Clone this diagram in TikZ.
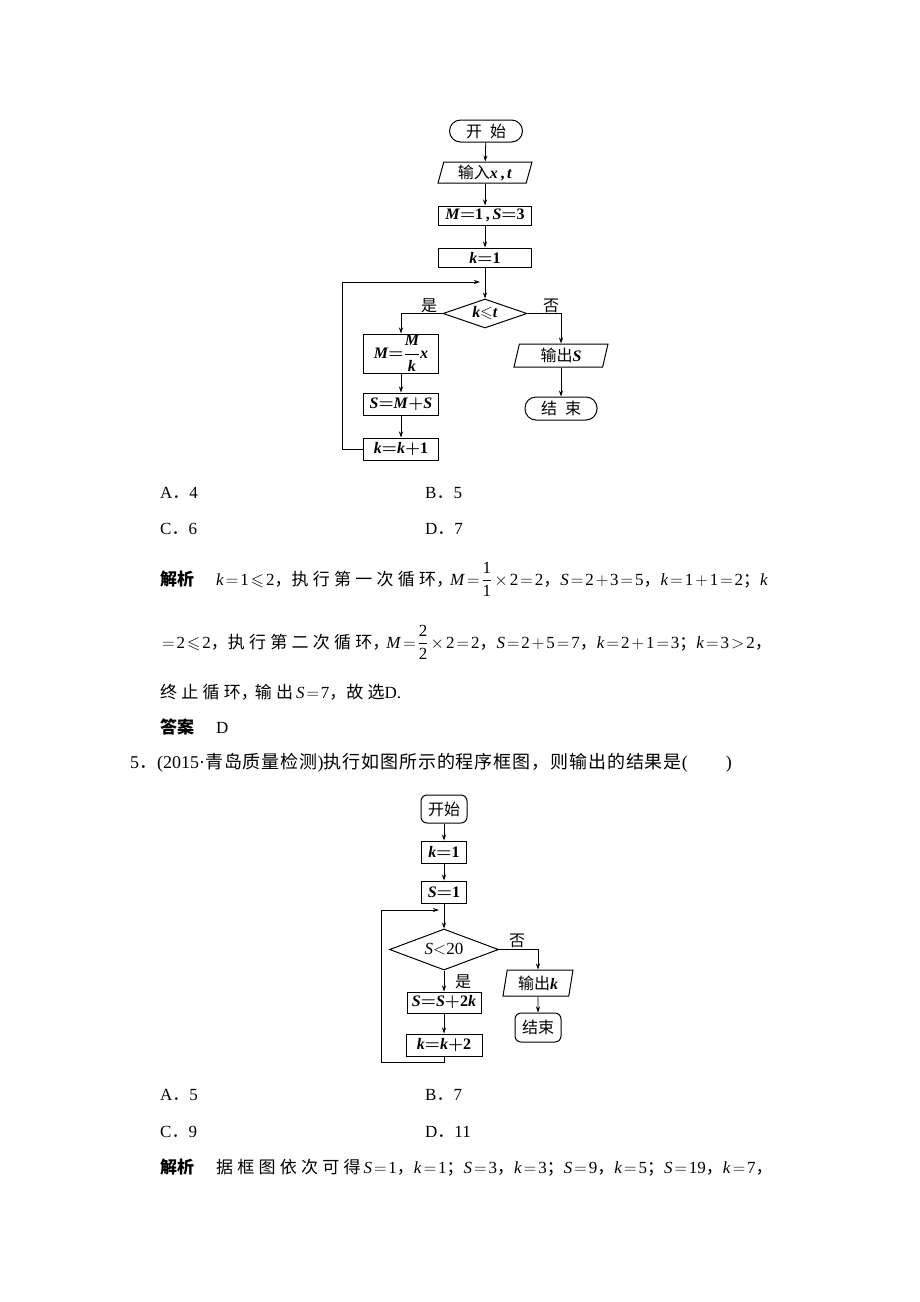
\documentclass[tikz,border=0pt]{standalone}
\usepackage{amsmath}
\usepackage{amssymb}
\usepackage{fontspec}
\setmainfont{Liberation Serif}
\newfontfamily\zhbody[LetterSpace=25]{Noto Sans CJK SC}
\newfontfamily\zhtight{Noto Sans CJK SC}
\newfontfamily\zhq[LetterSpace=5]{Noto Sans CJK SC}
\newcommand{\zh}[1]{{\zhbody #1}}
\newcommand{\zt}[1]{{\zhtight #1}}
\newcommand{\zq}[1]{{\zhq #1}}
\newcommand{\zc}[1]{{\zhtight\mdseries #1}}
\newcommand{\iv}[1]{\textit{#1}}
\newcommand{\op}[1]{\kern2pt${#1}$\kern2pt}
\newcommand{\cma}{\makebox[17pt][l]{\zt{，}}}
\newcommand{\cmz}{\makebox[14pt][l]{\zt{，}}}
\newcommand{\smc}{\makebox[17pt][l]{\zt{；}}}
\usepackage{tikz}
\usetikzlibrary{arrows.meta,shapes.geometric}
\tikzset{
    box/.style={
        draw,
        rectangle,
        line width=1pt,
        inner sep=0pt,
        align=center,
        font=\fontsize{16}{18}\selectfont\bfseries\boldmath
    },
    term/.style={
        box,
        rounded corners=11pt
    },
    termsq/.style={
        box,
        rounded corners=6pt
    },
    io/.style={
        box,
        trapezium,
        trapezium left angle=70,
        trapezium right angle=110,
        trapezium stretches body
    },
    cond/.style={
        box,
        diamond
    },
    arr/.style={
        -{Stealth[length=6pt,width=4pt]},
        line width=0.8pt
    },
    yesno/.style={
        inner sep=0pt,
        font=\fontsize{16}{18}\selectfont\zhtight
    },
    txt/.style={
        anchor=base west,
        inner sep=0pt,
        font=\fontsize{17}{20}\selectfont
    }
}
\begin{document}
\begin{tikzpicture}[x=1pt,y=-1pt]
    \fill[white] (0,0) rectangle (920,1302);
    \useasboundingbox (0,0) rectangle (920,1302);

    % first flow chart
    \node[term, minimum width=73pt, minimum height=22pt] (st1) at (486,131) {\zc{开\hspace{8pt}始}};
    \node[io, minimum width=94pt, minimum height=21pt] (in1) at (485,172.5) {\zc{输入}\iv{x}\,,\,\iv{t}};
    \node[box, minimum width=93pt, minimum height=19pt] (ms1) at (485,215.5) {\iv{M}${=}$1\,,\,\iv{S}${=}$3};
    \node[box, minimum width=93pt, minimum height=19pt] (k1) at (485,257.5) {\iv{k}${=}$1};
    \coordinate (j1) at (485,282);
    \coordinate (c1) at (342,282);
    \node[cond, aspect=2.9, minimum width=84pt, minimum height=29pt] (dec1) at (485,313.5) {\iv{k}$\leqslant$\iv{t}};
    \node[box, minimum width=75pt, minimum height=39pt] (mx1) at (401,353.5) {\iv{M}${=}\dfrac{\textit{M}}{\textit{k}}$\iv{x}};
    \node[box, minimum width=75pt, minimum height=22pt] (sm1) at (401,404) {\iv{S}${=}$\iv{M}${+}$\iv{S}};
    \node[box, minimum width=75pt, minimum height=22pt] (kk1) at (401,449) {\iv{k}${=}$\iv{k}${+}$1};
    \node[io, minimum width=94pt, minimum height=23pt] (out1) at (561,355.5) {\zc{输出}\iv{S}};
    \node[term, minimum width=72pt, minimum height=23pt] (end1) at (561,408.5) {\zc{结\hspace{8pt}束}};
    \node[yesno] (yes1) at (429,306) {是};
    \node[yesno] (no1) at (551,306) {否};

    \draw[arr] (st1) -- (in1);
    \draw[arr] (in1) -- (ms1);
    \draw[arr] (ms1) -- (k1);
    \draw[arr] (k1) -- (dec1);
    \draw[arr] (dec1.west) -| (mx1);
    \draw[arr] (mx1) -- (sm1);
    \draw[arr] (sm1) -- (kk1);
    \draw[arr, shorten >=5pt] (kk1.west) -| (c1) -- (j1);
    \draw[arr] (dec1.east) -| (out1);
    \draw[arr] (out1) -- (end1);

    % answers and solution of question 4
    \node[txt] (a4) at (160,498) {A\zt{．}4};
    \node[txt] (b4) at (425,498) {B\zt{．}5};
    \node[txt] (c4) at (160,534) {C\zt{．}6};
    \node[txt] (d4) at (425,534) {D\zt{．}7};
    \node[txt] (sol4a) at (160,585) {\zt{\bfseries 解析}\hspace{22pt}\iv{k}\op{=}1\op{\leqslant}2\cma\zh{执行第一次循环}\cmz\iv{M}\op{=}$\dfrac{\textrm{1}}{\textrm{1}}$\op{\times}2\op{=}2\cma\iv{S}\op{=}2\op{+}3\op{=}5\cma\iv{k}\op{=}1\op{+}1\op{=}2\smc\iv{k}};
    \node[txt] (sol4b) at (160,648) {\op{=}2\op{\leqslant}2\cma\zh{执行第二次循环}\cmz\iv{M}\op{=}$\dfrac{\textrm{2}}{\textrm{2}}$\op{\times}2\op{=}2\cma\iv{S}\op{=}2\op{+}5\op{=}7\cma\iv{k}\op{=}2\op{+}1\op{=}3\smc\iv{k}\op{=}3\op{>}2\cma};
    \node[txt] (sol4c) at (160,698) {\zh{终止循环}\cmz\zh{输出}\,\iv{S}\op{=}7\cma\zh{故选}D.};
    \node[txt] (key4) at (160,733) {\zt{\bfseries 答案}\hspace{22pt}D};

    % question 5
    \node[txt, font=\fontsize{18}{21}\selectfont] (q5) at (130,768) {5\zt{．}(2015·\zq{青岛质量检测})\zq{执行如图所示的程序框图，则输出的结果是}(\hspace{38pt})};

    % second flow chart
    \node[termsq, minimum width=46pt, minimum height=28pt] (st2) at (444,809) {\zc{开始}};
    \node[box, minimum width=45pt, minimum height=22pt] (k2) at (444,852) {\iv{k}${=}$1};
    \node[box, minimum width=45pt, minimum height=22pt] (s2) at (444,892) {\iv{S}${=}$1};
    \coordinate (j2) at (444,910);
    \coordinate (c2) at (381,910);
    \node[cond, aspect=2.66, minimum width=109pt, minimum height=41pt, font=\fontsize{17}{19}\selectfont] (dec2) at (444,949.5) {\iv{S}${<}$20};
    \node[box, minimum width=74pt, minimum height=21pt] (ss2) at (444,1002.5) {\iv{S}${=}$\iv{S}${+}$2\iv{k}};
    \node[box, minimum width=76pt, minimum height=22pt] (kk2) at (444,1045) {\iv{k}${=}$\iv{k}${+}$2};
    \coordinate (b2) at (444,1062);
    \node[io, trapezium left angle=74, trapezium right angle=106, minimum width=70pt, minimum height=26pt] (out2) at (538,983) {\zc{输出}\iv{k}};
    \node[termsq, minimum width=46pt, minimum height=29pt] (end2) at (538,1027.5) {\zc{结束}};
    \node[yesno] (no2) at (517,941) {否};
    \node[yesno] (yes2) at (463,982) {是};

    \draw[arr] (st2) -- (k2);
    \draw[arr] (k2) -- (s2);
    \draw[arr] (s2) -- (dec2);
    \draw[arr] (dec2) -- (ss2);
    \draw[arr] (ss2) -- (kk2);
    \draw[arr, shorten >=5pt] (kk2) -- (b2) -| (c2) -- (j2);
    \draw[arr] (dec2.east) -| (out2);
    \draw[arr] (out2) -- (end2);

    % answers and solution of question 5
    \node[txt] (a5) at (160,1100) {A\zt{．}5};
    \node[txt] (b5) at (425,1100) {B\zt{．}7};
    \node[txt] (c5) at (160,1137) {C\zt{．}9};
    \node[txt] (d5) at (425,1137) {D\zt{．}11};
    \node[txt] (sol5) at (160,1173) {\zt{\bfseries 解析}\hspace{22pt}\zh{据框图依次可得}\,\iv{S}\op{=}1\cma\iv{k}\op{=}1\smc\iv{S}\op{=}3\cma\iv{k}\op{=}3\smc\iv{S}\op{=}9\cma\iv{k}\op{=}5\smc\iv{S}\op{=}19\cma\iv{k}\op{=}7\cma};
\end{tikzpicture}
\end{document}
